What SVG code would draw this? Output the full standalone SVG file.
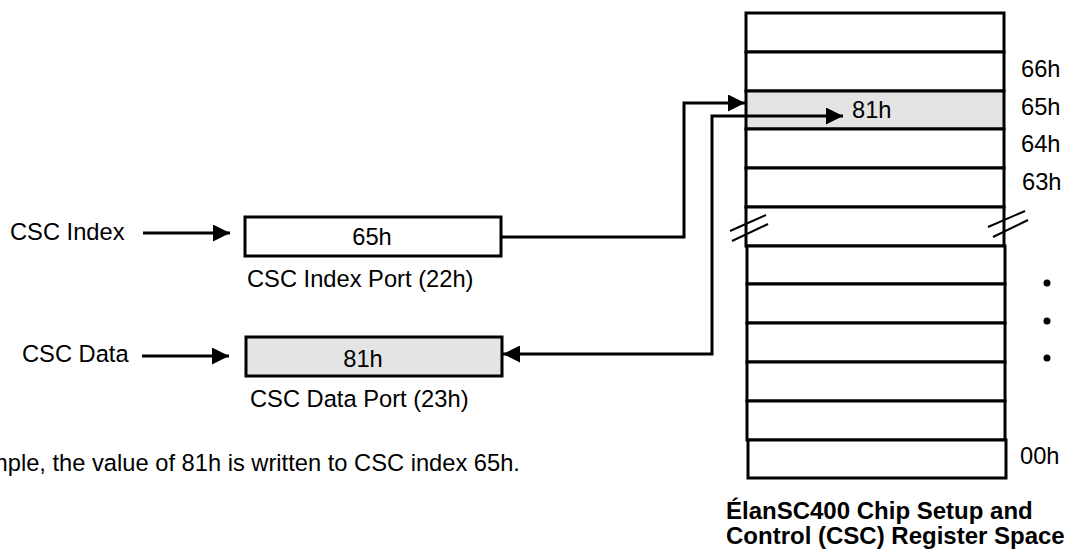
<svg xmlns="http://www.w3.org/2000/svg" width="1069" height="550" viewBox="0 0 1069 550">
<defs>
<style>
text{font-family:"Liberation Sans",Arial,sans-serif;font-size:23.7px;fill:#000}
.b{font-weight:bold;font-size:24px}
.m{text-anchor:middle}
.box{fill:#fff;stroke:#000;stroke-width:3}
.hl{fill:#e4e4e4}
.ln{fill:none;stroke:#000;stroke-width:3}
.brk{stroke:#000;stroke-width:2}
</style>
<marker id="ah" markerUnits="userSpaceOnUse" viewBox="0 0 17 17" refX="17" refY="8.5" markerWidth="17" markerHeight="17" orient="auto-start-reverse">
<path d="M0,0 L17,8.5 L0,17 Z" fill="#000"/>
</marker>
</defs>
<g id="register-space">
<rect class="box" x="746" y="13" width="258" height="39"/>
<rect class="box" x="746" y="52" width="258" height="39"/>
<rect class="box hl" x="746" y="91" width="258" height="38"/>
<rect class="box" x="746" y="129" width="258" height="39"/>
<rect class="box" x="746" y="168" width="258" height="39"/>
<rect class="box" x="746" y="207" width="258" height="39"/>
<rect class="box" x="747" y="246" width="258" height="38"/>
<rect class="box" x="747" y="284" width="258" height="39"/>
<rect class="box" x="747" y="323" width="258" height="39"/>
<rect class="box" x="747" y="362" width="258" height="39"/>
<rect class="box" x="747" y="401" width="258" height="39"/>
<rect class="box" x="748" y="440" width="258" height="38"/>
<line class="brk" x1="730" y1="231" x2="766" y2="215"/>
<line class="brk" x1="732" y1="241" x2="768" y2="224"/>
<line class="brk" x1="988" y1="227" x2="1025" y2="211"/>
<line class="brk" x1="993" y1="237" x2="1028" y2="220"/>
<text x="852" y="118">81h</text>
<text x="1021" y="77">66h</text>
<text x="1021" y="115">65h</text>
<text x="1021" y="152">64h</text>
<text x="1022" y="190">63h</text>
<text x="1020" y="464">00h</text>
<circle cx="1047" cy="283" r="3.5"/>
<circle cx="1047" cy="321" r="3.5"/>
<circle cx="1047" cy="358" r="3.5"/>
<text class="b" x="726" y="519">ÉlanSC400 Chip Setup and</text>
<text class="b" x="726" y="544">Control (CSC) Register Space</text>
</g>
<g id="index-port">
<rect class="box" x="245" y="217" width="256" height="39"/>
<text class="m" x="372" y="245">65h</text>
<text x="247" y="287">CSC Index Port (22h)</text>
</g>
<g id="data-port">
<rect class="box hl" x="246" y="337" width="256" height="39"/>
<text class="m" x="363" y="367">81h</text>
<text x="250" y="407">CSC Data Port (23h)</text>
</g>
<g id="labels">
<text x="10" y="240">CSC Index</text>
<text x="22" y="362">CSC Data</text>
<text x="-12" y="471">mple, the value of 81h is written to CSC index 65h.</text>
</g>
<g id="connectors">
<line class="ln" x1="143" y1="233" x2="230" y2="233" marker-end="url(#ah)"/>
<line class="ln" x1="142" y1="356" x2="229" y2="356" marker-end="url(#ah)"/>
<path class="ln" d="M501,237 H684 V103 H745" marker-end="url(#ah)"/>
<path class="ln" d="M503,354 H712 V116 H843" marker-start="url(#ah)" marker-end="url(#ah)"/>
</g>
</svg>
